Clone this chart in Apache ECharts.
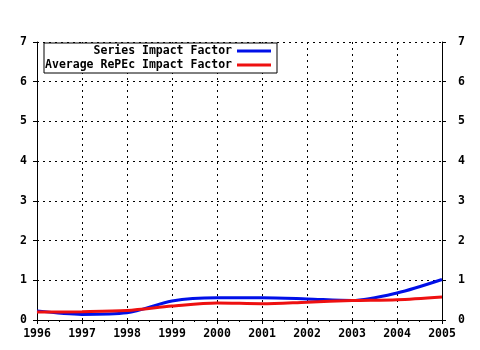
<!DOCTYPE html>
<html><head><meta charset="utf-8">
<script src="https://cdn.jsdelivr.net/npm/echarts@6/dist/echarts.min.js"></script>
<style>html,body{margin:0;padding:0;background:#fff}#c{width:480px;height:350px}</style>
</head><body><div id="c"></div>
<script>
const years = [1996, 1997, 1998, 1999, 2000, 2001, 2002, 2003, 2004, 2005];
const seriesImpact = [0.23, 0.14, 0.18, 0.48, 0.56, 0.56, 0.53, 0.49, 0.68, 1.02];
const averageImpact = [0.20, 0.21, 0.24, 0.35, 0.43, 0.41, 0.45, 0.49, 0.51, 0.58];
const seriesNames = ['Series Impact Factor', 'Average RePEc Impact Factor'];
const yTicks = [0, 1, 2, 3, 4, 5, 6, 7];

const font = 'DejaVu Sans Mono';
const lab = {fontFamily: font, fontWeight: 'bold', fontSize: 11.5, color: '#000'};
const axLine = {show: true, lineStyle: {color: '#000', width: 1}};
const chart = echarts.init(document.getElementById('c'), null, {renderer: 'canvas'});
const pair = arr => arr.map((v, i) => [years[i], v]);
chart.setOption({
  animation: false,
  backgroundColor: '#fff',
  grid: {left: 37, right: 38, top: 42, bottom: 30},
  legend: {
    orient: 'vertical', align: 'right', left: 44, top: 43,
    padding: [2, 6, 2, 0], itemWidth: 34, itemHeight: 3, itemGap: 2,
    icon: 'rect',
    borderColor: '#000', borderWidth: 1, backgroundColor: '#fff',
    textStyle: Object.assign({}, lab, {width: 188, align: 'right', lineHeight: 12, overflow: 'truncate'}),
    data: seriesNames
  },
  xAxis: [{
    type: 'value', min: years[0], max: years[years.length - 1], interval: 1,
    axisLine: axLine,
    axisTick: {show: true, length: 4, lineStyle: {color: '#000'}},
    minorTick: {show: true, splitNumber: 4, length: 2, lineStyle: {color: '#000'}},
    axisLabel: Object.assign({}, lab, {margin: 8, formatter: v => String(v)}),
    splitLine: {show: true, lineStyle: {color: '#000', type: [2, 4], width: 1}}
  }, {
    type: 'value', position: 'top', min: years[0], max: years[years.length - 1], interval: 1,
    axisLine: axLine,
    axisTick: {show: true, inside: true, length: 4, lineStyle: {color: '#000'}},
    minorTick: {show: true, splitNumber: 4, length: 2, lineStyle: {color: '#000'}},
    axisLabel: {show: false}, splitLine: {show: false}
  }],
  yAxis: [{
    type: 'value', min: yTicks[0], max: yTicks[yTicks.length - 1], interval: 1,
    axisLine: axLine,
    axisTick: {show: true, length: 4, lineStyle: {color: '#000'}},
    axisLabel: Object.assign({}, lab, {margin: 10}),
    splitLine: {show: true, lineStyle: {color: '#000', type: [2, 4], width: 1}}
  }, {
    type: 'value', position: 'right', min: yTicks[0], max: yTicks[yTicks.length - 1], interval: 1,
    axisLine: axLine,
    axisTick: {show: true, length: 4, lineStyle: {color: '#000'}},
    axisLabel: Object.assign({}, lab, {margin: 16}),
    splitLine: {show: false}
  }],
  series: [{
    name: seriesNames[0], type: 'line', data: pair(seriesImpact), smooth: 0.3,
    showSymbol: false, symbol: 'none', color: '#0010e8', lineStyle: {width: 3, color: '#0010e8'}, z: 3
  }, {
    name: seriesNames[1], type: 'line', data: pair(averageImpact), smooth: 0.3,
    showSymbol: false, symbol: 'none', color: '#ee1010', lineStyle: {width: 3, color: '#ee1010'}, z: 4
  }]
});
</script></body></html>
